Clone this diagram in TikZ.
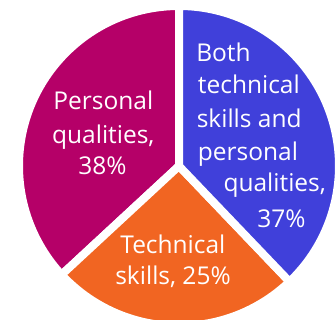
\documentclass[tikz,border=0pt]{standalone}
\usepackage{fontspec}
\setmainfont{Open Sans}
\usepackage{xcolor}
\definecolor{persmagenta}{RGB}{181,0,104}
\definecolor{bothblue}{RGB}{64,64,218}
\definecolor{techorange}{RGB}{241,101,34}
\tikzset{
  pieslice/.style={draw=white, line width=8pt, line join=miter},
  slicelabel/.style={text=white, inner sep=0pt, anchor=base, font=\fontsize{24.5}{33}\selectfont}
}

\begin{document}
\begin{tikzpicture}[x=1pt, y=1pt]
        \useasboundingbox (0,0) rectangle (335,320);
        \coordinate (centre) at (179,154);

        \filldraw [pieslice, fill=persmagenta] (centre) -- ++(90:160) arc [start angle=90, end angle=222.8, radius=160] -- cycle;
        \filldraw [pieslice, fill=techorange] (centre) -- ++(222.8:160) arc [start angle=222.8, end angle=313.7, radius=160] -- cycle;
        \filldraw [pieslice, fill=bothblue] (centre) -- ++(313.7:160) arc [start angle=-46.3, end angle=90, radius=160] -- cycle;

        \node [slicelabel] (pers1) at (103.3,210.7) {Personal};
        \node [slicelabel] (pers2) at (103.3,176.7) {qualities,};
        \node [slicelabel] (pers3) at (102.5,145) {38\%};

        \node [slicelabel] (tech1) at (172.9,66.7) {Technical};
        \node [slicelabel] (tech2) at (173,35) {skills, 25\%};

        \node [slicelabel] (both1) at (223.5,258.3) {Both};
        \node [slicelabel] (both2) at (248.9,226.7) {technical};
        \node [slicelabel] (both3) at (249.2,192.3) {skills and};
        \node [slicelabel] (both4) at (247.9,159) {personal};
        \node [slicelabel] (both5) at (274.7,128.3) {qualities,};
        \node [slicelabel] (both6) at (281.4,92.3) {37\%};
    \end{tikzpicture}
\end{document}
